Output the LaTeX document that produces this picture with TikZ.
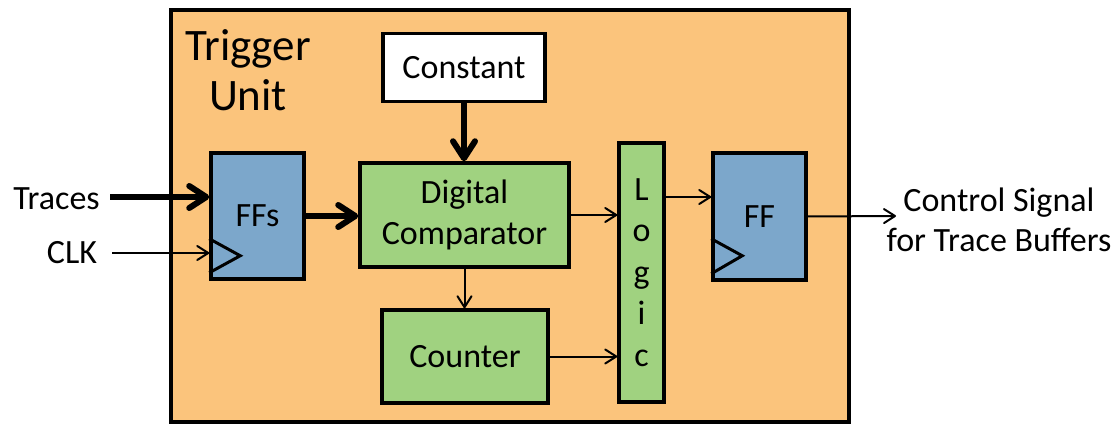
\documentclass[tikz,border=0pt]{standalone}
\usepackage{fontspec}
\setmainfont{Carlito}
\usetikzlibrary{arrows.meta}
\definecolor{unitorange}{RGB}{251,196,124}
\definecolor{ffblue}{RGB}{124,167,203}
\definecolor{logicgreen}{RGB}{160,210,128}

\begin{document}
\begin{tikzpicture}[x=1pt,y=-1pt,
  block/.style={draw, line width=3.5pt, inner sep=0pt, align=center,
    font=\fontsize{34}{41}\selectfont},
  label/.style={inner sep=0pt, align=center, font=\fontsize{34}{40}\selectfont},
  sigline/.style={line width=2pt, -{Straight Barb[length=11pt,width=14pt,round]}},
  bus/.style={line width=6pt, -{Straight Barb[length=17pt,width=22pt,round]}},
  clock/.style={line width=3pt, line join=miter},
]
\useasboundingbox (0,0) rectangle (1120,425);

% enclosing trigger unit
\node[block, fill=unitorange, minimum width=678pt, minimum height=412pt] (unit) at (510,216) {};
\node[inner sep=0pt, align=center, font=\fontsize{45}{50}\selectfont] (unitlabel) at (248,70) {Trigger\\Unit};

% blocks
\node[block, fill=white, minimum width=162pt, minimum height=68pt] (const) at (464,67.5) {Constant};
\node[block, fill=logicgreen, minimum width=209pt, minimum height=104pt] (comp) at (464.5,215) {Digital\\Comparator};
\node[block, fill=ffblue, minimum width=93pt, minimum height=126pt] (ffs) at (257.5,216) {FFs};
\node[block, fill=logicgreen, minimum width=45pt, minimum height=259pt,
  font=\fontsize{34}{41.5}\selectfont] (logic) at (641.5,272.5) {L\\o\\g\\i\\c};
\node[block, fill=ffblue, minimum width=93pt, minimum height=127pt] (ff) at (759.5,216.5) {FF};
\node[block, fill=logicgreen, minimum width=166pt, minimum height=93pt] (counter) at (465,356.5) {Counter};

% clock inputs
\draw[clock] (ffs.south west) ++(0,-42) -- ++(31,17) -- ++(-31,17);
\draw[clock] (ff.south west) ++(0,-43) -- ++(31,17) -- ++(-31,18);

% external labels
\node[label] (traces) at (56.5,199) {Traces};
\node[label] (clk) at (72,253) {CLK};
\node[label] (ctrl) at (999,220) {Control Signal\\for Trace Buffers};

\coordinate (tracesin) at (110,197);
\coordinate (clkin) at (112,253);
\coordinate (ctrlout) at (896,216);

% connectors
\draw[bus] (tracesin) -- (tracesin -| ffs.west);
\draw[sigline] (clkin) -- (clkin -| ffs.west);
\draw[bus] (ffs.east) -- (ffs.east -| comp.west);
\draw[bus] (const.south) -- (const.south |- comp.north);
\draw[sigline] (comp.east) -- (comp.east -| logic.west);
\draw[sigline] (logic.east |- 0,197) -- (ff.west |- 0,197);
\draw[sigline] (ff.east) -- (ctrlout);
\draw[sigline] (comp.south) -- (comp.south |- counter.north);
\draw[sigline] (counter.east) -- (counter.east -| logic.west);
\end{tikzpicture}
\end{document}
